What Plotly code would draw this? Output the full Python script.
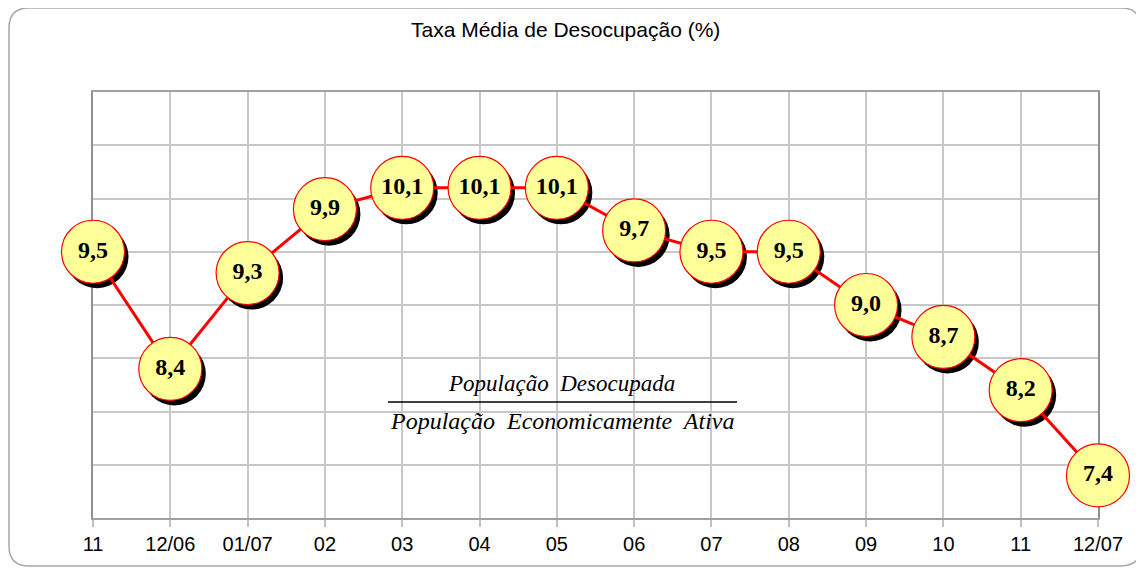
import plotly.graph_objects as go

categories = ["11", "12/06", "01/07", "02", "03", "04", "05", "06", "07", "08", "09", "10", "11", "12/07"]
values = [9.5, 8.4, 9.3, 9.9, 10.1, 10.1, 10.1, 9.7, 9.5, 9.5, 9.0, 8.7, 8.2, 7.4]
title_text = "Taxa Média de Desocupação (%)"
numerator = "População  Desocupada"
denominator = "População  Economicamente  Ativa"

# page has an 8px body margin; figure coordinates = screen coords - 8
OFF = 8
W, H = 1144 - OFF, 568 - OFF
L, T = 93 - OFF, 92 - OFF
R = W - (1098 - OFF)
B = H - (518 - OFF)
pw, ph = W - L - R, H - T - B
y_min, y_max = 7.0, 11.0
n = len(categories)
x_idx = list(range(n))

sdx = 4 * (n - 1) / pw
sdy = 5 * (y_max - y_min) / ph
labels = [f"{v:.1f}".replace(".", ",") for v in values]

fig = go.Figure()
fig.add_trace(go.Scatter(
    x=[i + sdx for i in x_idx], y=[v - sdy for v in values], mode="markers",
    marker=dict(size=63, color="black", line=dict(width=0)),
    hoverinfo="skip", cliponaxis=False, showlegend=False))
fig.add_trace(go.Scatter(
    x=x_idx, y=values, mode="lines",
    line=dict(color="#FF0000", width=3),
    hoverinfo="skip", cliponaxis=False, showlegend=False))
fig.add_trace(go.Scatter(
    x=x_idx, y=values, mode="markers+text", text=labels,
    textposition="middle center",
    textfont=dict(family="Liberation Serif", size=24, color="black", weight="bold"),
    marker=dict(size=63, color="#FFFF99", line=dict(color="#FF0000", width=1.2)),
    cliponaxis=False, showlegend=False))

def px2paper(px, py):
    return (px - OFF - L) / pw, (H - B - (py - OFF)) / ph

def P(px, py):
    a, b = px2paper(px, py)
    return f"{a:.5f},{b:.5f}"

x0, y0, x1, y1, r = 9, 8, 1141, 566, 20
path = (f"M {P(x0 + r, y0)} L {P(x1 - r, y0)} Q {P(x1, y0)} {P(x1, y0 + r)} "
        f"L {P(x1, y1 - r)} Q {P(x1, y1)} {P(x1 - r, y1)} "
        f"L {P(x0 + r, y1)} Q {P(x0, y1)} {P(x0, y1 - r)} "
        f"L {P(x0, y0 + r)} Q {P(x0, y0)} {P(x0 + r, y0)} Z")
fig.add_shape(type="path", path=path, xref="paper", yref="paper",
              line=dict(color="#A8A8A8", width=1.5), layer="below")

fx0, fy = px2paper(388, 402)
fx1, _ = px2paper(737, 402)
fig.add_shape(type="line", xref="paper", yref="paper", x0=fx0, x1=fx1, y0=fy, y1=fy,
              line=dict(color="black", width=1.3))
nx, ny = px2paper(561, 383)
dx_, dy_ = px2paper(562, 421)
fig.add_annotation(x=nx, y=ny, xref="paper", yref="paper", text=numerator, showarrow=False,
                   xanchor="center", yanchor="middle",
                   font=dict(family="Liberation Serif", size=23, color="black", style="italic"))
fig.add_annotation(x=dx_, y=dy_, xref="paper", yref="paper", text=denominator, showarrow=False,
                   xanchor="center", yanchor="middle",
                   font=dict(family="Liberation Serif", size=24, color="black", style="italic"))
tx, ty = px2paper(565, 30)
fig.add_annotation(x=tx, y=ty, xref="paper", yref="paper", text=title_text, showarrow=False,
                   xanchor="center", yanchor="middle",
                   font=dict(family="Liberation Sans", size=21, color="black"))

fig.update_layout(
    width=W, height=H, margin=dict(l=L, r=R, t=T, b=B),
    paper_bgcolor="white", plot_bgcolor="white",
    xaxis=dict(range=[0, n - 1], tickmode="array", tickvals=x_idx, ticktext=categories,
               showgrid=True, gridcolor="#C8C8C8", gridwidth=1.5, zeroline=False,
               showline=True, linecolor="#A0A0A0", linewidth=1.5, mirror=True,
               layer="below traces",
               ticks="outside", ticklen=7, tickcolor="#C0C0C0", tickwidth=1.5,
               tickfont=dict(family="Liberation Sans", size=20, color="black"), fixedrange=True),
    yaxis=dict(range=[y_min, y_max], dtick=0.5, showticklabels=False,
               showgrid=True, gridcolor="#C8C8C8", gridwidth=1.5, zeroline=False,
               showline=True, linecolor="#909090", linewidth=2, mirror=True,
               layer="below traces", fixedrange=True),
)
fig.write_html("out.html")
